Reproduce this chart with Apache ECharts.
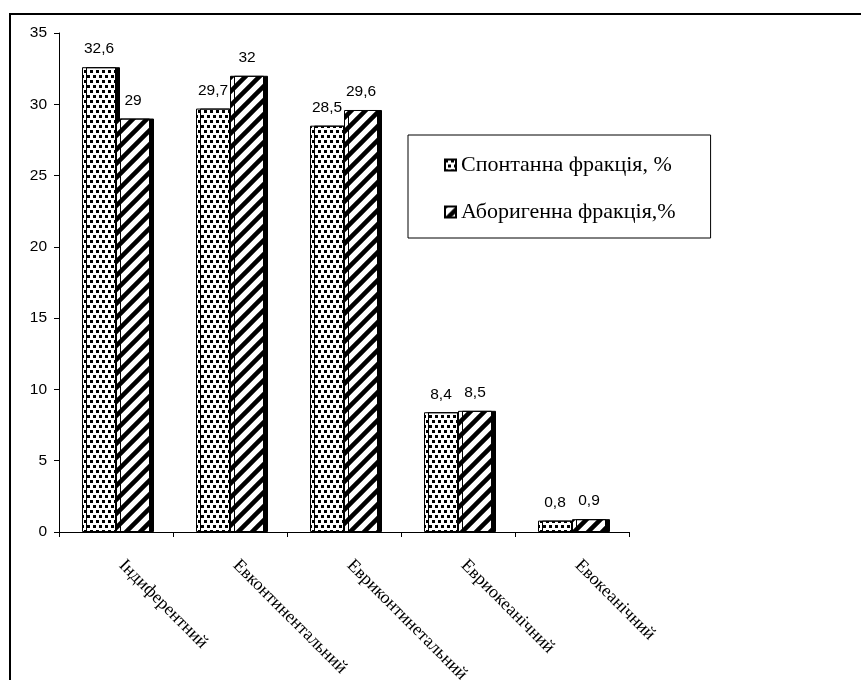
<!DOCTYPE html>
<html>
<head>
<meta charset="utf-8">
<script src="https://cdn.jsdelivr.net/npm/echarts@6/dist/echarts.min.js"></script>
<style>
html,body{margin:0;padding:0;background:#fff;}
#c{width:861px;height:680px;}
</style>
</head>
<body>
<div id="c"></div>
<script>
var categories = ['Індиферентний', 'Евконтинентальний', 'Евриконтинетальний', 'Евриокеанічний', 'Евокеанічний'];
var spontValues = [32.6, 29.7, 28.5, 8.4, 0.8];
var aborValues = [29, 32, 29.6, 8.5, 0.9];
var seriesNames = ['Спонтанна фракція, %', 'Аборигенна фракція,%'];
var yTicks = {min: 0, max: 35, interval: 5};

function dotPattern() {
  var c = document.createElement('canvas');
  c.width = 6; c.height = 10;
  var g = c.getContext('2d');
  g.fillStyle = '#fff'; g.fillRect(0, 0, 6, 10);
  g.fillStyle = '#000';
  g.fillRect(0, 0, 3, 3);
  g.fillRect(3, 5, 3, 3);
  return c;
}
function stripePattern() {
  var s = 14;
  var c = document.createElement('canvas');
  c.width = s; c.height = s;
  var g = c.getContext('2d');
  g.fillStyle = '#fff'; g.fillRect(0, 0, s, s);
  g.strokeStyle = '#000';
  g.lineWidth = 4.5;
  g.beginPath();
  g.moveTo(-2, s + 2); g.lineTo(s + 2, -2);
  g.moveTo(-s / 2 - 2, s / 2 + 2); g.lineTo(s / 2 + 2, -s / 2 - 2);
  g.moveTo(s / 2 - 2, s * 1.5 + 2); g.lineTo(s * 1.5 + 2, s / 2 - 2);
  g.stroke();
  return c;
}

var fmt = function (p) { return String(p.value).replace('.', ','); };
var labelStyle = {
  show: true, position: 'top', distance: 10,
  fontFamily: 'Liberation Sans', fontSize: 15.5, color: '#000',
  formatter: fmt
};
function itemStyle(img) {
  return {
    color: {image: img, repeat: 'repeat'},
    borderColor: '#000', borderWidth: 1,
    shadowColor: '#000', shadowBlur: 0, shadowOffsetX: 4, shadowOffsetY: 0
  };
}

var chart = echarts.init(document.getElementById('c'), null, {renderer: 'canvas'});
chart.setOption({
  backgroundColor: '#fff',
  animation: false,
  grid: {left: 59, right: 232, top: 33, bottom: 148, containLabel: false, outerBoundsMode: 'none'},
  legend: {
    orient: 'vertical', left: 408, top: 135,
    padding: [19, 35, 15, 36], itemGap: 25,
    itemWidth: 11, itemHeight: 11,
    borderColor: '#000', borderWidth: 1,
    backgroundColor: '#fff',
    textStyle: {fontFamily: 'Liberation Serif', fontSize: 22, color: '#000'},
    data: [{name: seriesNames[0], icon: 'rect'}, {name: seriesNames[1], icon: 'rect'}]
  },
  xAxis: {
    type: 'category', data: categories,
    axisLine: {lineStyle: {color: '#000', width: 1}},
    axisTick: {show: true, length: 5, lineStyle: {color: '#000'}},
    axisLabel: {rotate: -45, margin: 25, padding: [0, 0, 10, 8], fontFamily: 'Liberation Serif', fontSize: 18, color: '#000', interval: 0}
  },
  yAxis: {
    type: 'value', min: yTicks.min, max: yTicks.max, interval: yTicks.interval,
    splitLine: {show: false},
    axisLine: {show: true, lineStyle: {color: '#000', width: 1}},
    axisTick: {show: true, inside: false, length: 5, lineStyle: {color: '#000'}},
    axisLabel: {margin: 12, fontFamily: 'Liberation Sans', fontSize: 15.5, color: '#000'}
  },
  series: [
    {name: seriesNames[0], type: 'bar', data: spontValues, barWidth: 34, barGap: '0%',
     itemStyle: itemStyle(dotPattern()), label: labelStyle},
    {name: seriesNames[1], type: 'bar', data: aborValues, barWidth: 34, barGap: '0%',
     itemStyle: itemStyle(stripePattern()), label: labelStyle}
  ],
  graphic: [{
    type: 'rect', z: 100, silent: true,
    shape: {x: 10, y: 14, width: 1000, height: 1000},
    style: {fill: null, stroke: '#000', lineWidth: 2}
  }]
});
</script>
</body>
</html>
